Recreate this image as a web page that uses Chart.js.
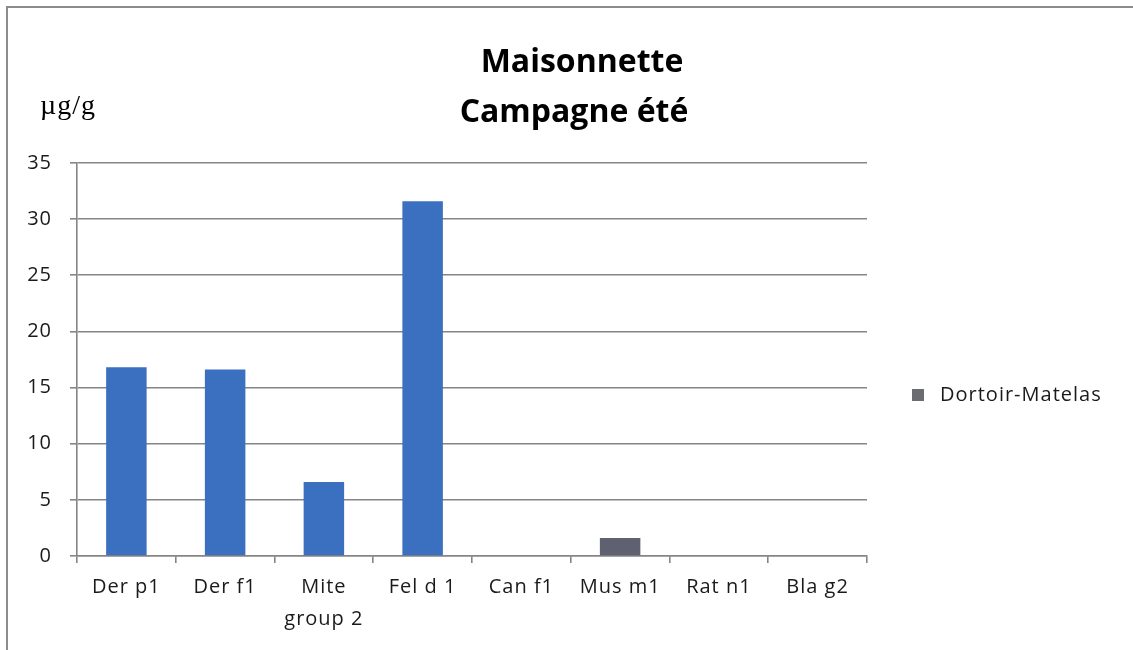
<!DOCTYPE html>
<html>
<head>
<meta charset="utf-8">
<script src="https://cdn.jsdelivr.net/npm/chart.js@4/dist/chart.umd.min.js"></script>
<style>
  html, body { margin: 0; padding: 0; background: #ffffff; }
  #wrap { position: absolute; left: 0; top: 0; width: 1133px; height: 650px; }
  #frame { position: absolute; left: 6px; top: 6px; width: 1140px; height: 660px; border: 2px solid #8c8c8c; box-sizing: border-box; }
</style>
</head>
<body>
<div id="wrap">
  <div id="frame"></div>
  <canvas id="c" width="1133" height="650"></canvas>
</div>
<script>
// Allergen concentrations, summer campaign, dormitory mattress
const categories = ["Der p1", "Der f1", ["Mite", "group 2"], "Fel d 1", "Can f1", "Mus m1", "Rat n1", "Bla g2"];
const seriesLabel = "Dortoir-Matelas";
const values = [16.8, 16.6, 6.6, 31.6, 0, 1.6, 0, 0];
const barColors = ["#3b6fbf", "#3b6fbf", "#3b6fbf", "#3b6fbf", "#3b6fbf", "#5f6170", "#3b6fbf", "#3b6fbf"];
const yTicks = [0, 5, 10, 15, 20, 25, 30, 35];
const titleLines = ["Maisonnette", "Campagne été"];
const unitLabel = "µg/g";

const FONT = "'Open Sans', Lato, sans-serif";

const decorations = {
  id: "decorations",
  beforeDraw(chart) {
    // wide tracking on axis labels
    chart.ctx.letterSpacing = "1px";
  },
  afterDraw(chart) {
    const ctx = chart.ctx;
    ctx.save();
    ctx.letterSpacing = "0px";
    // title
    ctx.fillStyle = "#000";
    ctx.textAlign = "center";
    ctx.textBaseline = "alphabetic";
    ctx.font = "bold 32px " + FONT;
    ctx.fillText(titleLines[0], 582, 72);
    ctx.fillText(titleLines[1], 574, 122);
    // unit
    ctx.textAlign = "left";
    ctx.font = "28px 'Liberation Serif', 'DejaVu Serif', serif";
    ctx.letterSpacing = "1px";
    ctx.fillText(unitLabel, 40, 114);
    // legend
    const ds = chart.data.datasets[0];
    const lx = 912, ly = 395;
    ctx.fillStyle = "#6b6b72";
    ctx.fillRect(lx, ly - 6, 12, 12);
    ctx.fillStyle = "#1a1a1a";
    ctx.font = "20px " + FONT;
    ctx.letterSpacing = "1px";
    ctx.textBaseline = "middle";
    ctx.fillText(ds.label, lx + 28, ly);
    ctx.restore();
  }
};

new Chart(document.getElementById("c"), {
  type: "bar",
  data: {
    labels: categories,
    datasets: [{
      label: seriesLabel,
      data: values,
      backgroundColor: barColors,
      borderWidth: 0,
      barPercentage: 0.82,
      categoryPercentage: 0.5
    }]
  },
  options: {
    responsive: false,
    animation: false,
    layout: { padding: { left: 0, top: 163, right: 266, bottom: 0 } },
    plugins: {
      legend: { display: false },
      title: { display: false },
      tooltip: { enabled: false }
    },
    scales: {
      x: {
        offset: true,
        grid: { display: true, drawOnChartArea: false, offset: true, color: "#858585", lineWidth: 1.6, tickLength: 7 },
        border: { color: "#858585", width: 1.6 },
        ticks: { color: "#1a1a1a", font: { family: FONT, size: 20, lineHeight: 1.6 }, padding: 8, maxRotation: 0, autoSkip: false },
        afterFit(scale) { scale.height = 94; }
      },
      y: {
        min: 0, max: 35,
        afterBuildTicks(scale) { scale.ticks = yTicks.map(v => ({ value: v })); },
        grid: { color: "#858585", lineWidth: 1.6, tickLength: 7 },
        border: { color: "#858585", width: 1.6 },
        ticks: { color: "#1a1a1a", font: { family: FONT, size: 20 }, padding: 18 },
        afterFit(scale) { scale.width = 77; }
      }
    }
  },
  plugins: [decorations]
});
</script>
</body>
</html>
